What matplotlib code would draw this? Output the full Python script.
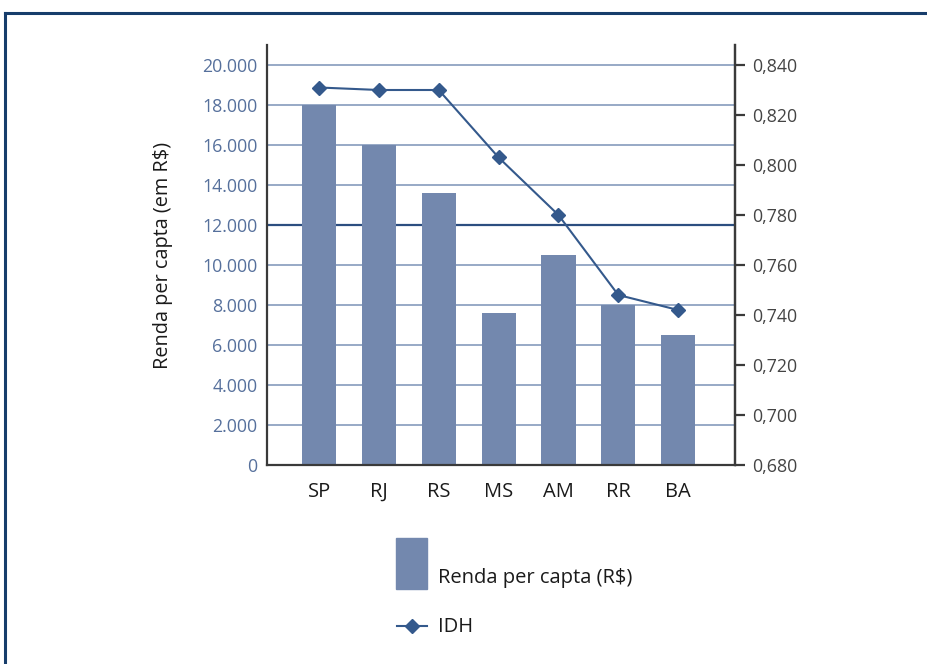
"""Renda per capita (bars) e IDH (linha) por estado."""
import numpy as np
import matplotlib; matplotlib.use("Agg")
import matplotlib.pyplot as plt
from matplotlib.patches import Rectangle
from matplotlib.lines import Line2D
from matplotlib.ticker import FuncFormatter

plt.rcParams["font.family"] = ["Open Sans", "DejaVu Sans"]

estados = ["SP", "RJ", "RS", "MS", "AM", "RR", "BA"]
renda = [18000, 16000, 13600, 7600, 10500, 8000, 6500]
idh = [0.831, 0.830, 0.830, 0.803, 0.780, 0.748, 0.742]

BAR = "#7388AE"
LINE = "#34598C"
GRID = "#8FA3C2"
DARK = "#3A3A3A"
LBLUE = "#56709C"
FRAME = "#173D6B"

fig = plt.figure(figsize=(9.27, 6.64), dpi=100)
ax = fig.add_axes([267/927, 1-465/664, 468/927, 420/664])
x = np.arange(len(estados))

ax.bar(x, renda, width=0.57, color=BAR, zorder=2)
ax.set_xlim(-0.87, 6.95)
ax.set_ylim(0, 21000)
ax.set_yticks(np.arange(0, 20001, 2000))
ax.yaxis.set_major_formatter(FuncFormatter(lambda v, p: f"{int(v):,}".replace(",", ".")))
ax.set_xticks(x, estados)
ax.tick_params(axis="y", length=0, pad=7, labelsize=12.8, labelcolor=LBLUE)
ax.tick_params(axis="x", length=0, pad=12, labelsize=14.5, labelcolor="#1A1A1A")
ax.grid(axis="y", color=GRID, lw=1.3, zorder=1)
ax.set_axisbelow(True)
gl = ax.get_ygridlines()
gl[0].set_visible(False)
gl[6].set_color("#2C4E80")
gl[6].set_linewidth(1.6)
for s in ["left", "bottom", "right"]:
    ax.spines[s].set_color(DARK)
    ax.spines[s].set_linewidth(1.6)
ax.spines["top"].set_visible(False)
ax.set_ylabel("Renda per capta (em R$)", fontsize=14.3, color="#1A1A1A", labelpad=21)

ax2 = ax.twinx()
ax2.plot(x, idh, color=LINE, lw=1.5, marker="D", ms=7.5, mfc=LINE, mec=LINE, zorder=3)
ax2.set_ylim(0.680, 0.848)
ax2.set_yticks(np.arange(0.68, 0.8401, 0.02))
ax2.yaxis.set_major_formatter(FuncFormatter(lambda v, p: f"{v:.3f}".replace(".", ",")))
ax2.tick_params(axis="y", length=7, width=1.6, color=DARK, pad=5, labelsize=12.8, labelcolor="#444444")
for s in ["left", "top"]:
    ax2.spines[s].set_visible(False)
ax2.spines["right"].set_color(DARK)
ax2.spines["right"].set_linewidth(1.6)
ax2.spines["bottom"].set_visible(False)

# legenda desenhada à mão
fig.add_artist(Rectangle((396/927, 1-589/664), 31/927, 51/664, transform=fig.transFigure, color=BAR))
fig.text(438/927, 1-578/664, "Renda per capta (R$)", fontsize=14.5, va="center", color="#1A1A1A")
fig.add_artist(Line2D([397/927, 427/927], [1-626/664]*2, transform=fig.transFigure, color=LINE, lw=1.5))
fig.add_artist(Line2D([412/927], [1-626/664], transform=fig.transFigure, color=LINE, marker="D", ms=7.5))
fig.text(438/927, 1-627/664, "IDH", fontsize=14.5, va="center", color="#1A1A1A")

# moldura
fig.add_artist(Line2D([4.5/927, 1], [1-13/664]*2, transform=fig.transFigure, color=FRAME, lw=2.2))
fig.add_artist(Line2D([4.5/927]*2, [0, 1-13/664], transform=fig.transFigure, color=FRAME, lw=2.2))

fig.savefig("out.png", dpi=100, facecolor="white")
